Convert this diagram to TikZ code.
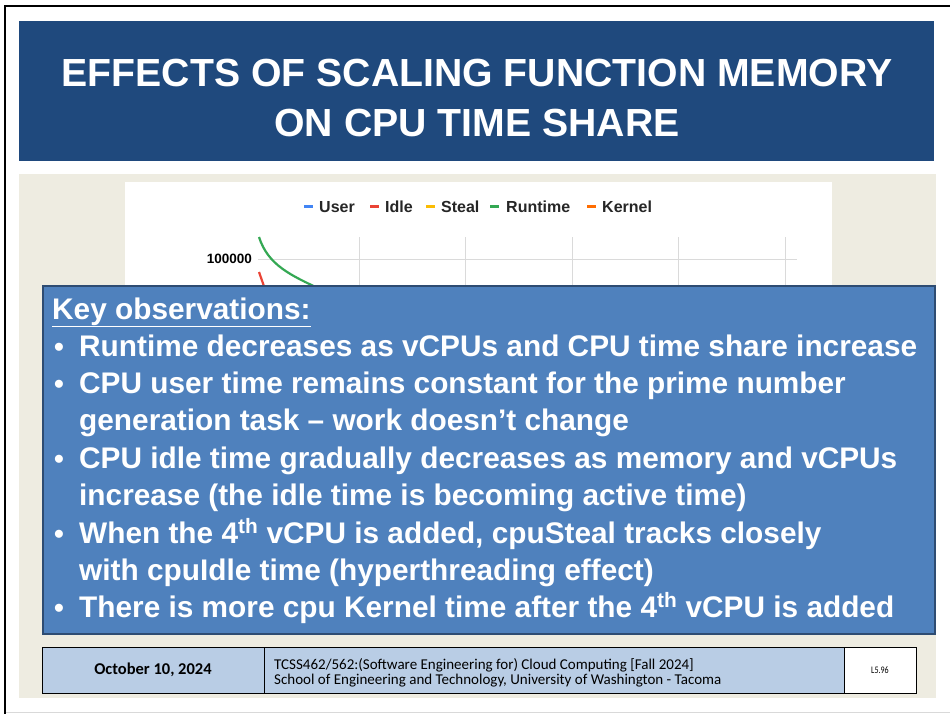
\documentclass[tikz,border=0pt]{standalone}
\usepackage{fontspec}
\setmainfont{Liberation Sans}
\newfontfamily\calibri{Carlito}
\definecolor{titleblue}{HTML}{1F497D}
\definecolor{keyblue}{HTML}{4F81BD}
\definecolor{keyedge}{HTML}{2E4C72}
\definecolor{beige}{HTML}{EEECE1}
\definecolor{footblue}{HTML}{B9CDE5}
\definecolor{gridc}{HTML}{DADADA}
\definecolor{cuser}{HTML}{4285F4}
\definecolor{cidle}{HTML}{EA4335}
\definecolor{csteal}{HTML}{FBBC04}
\definecolor{crun}{HTML}{34A853}
\definecolor{ckern}{HTML}{FF6D01}
\tikzset{
  keyline/.style={anchor=base west, inner sep=0pt, text=white, font=\bfseries\fontsize{29.8}{37}\selectfont},
  bulletdot/.style={anchor=base west, inner sep=0pt, text=white, font=\bfseries\fontsize{28}{37}\selectfont},
  legmark/.style={line width=3pt},
  legtext/.style={anchor=west, inner sep=0pt, font=\bfseries\fontsize{16}{18}\selectfont, text=black!85},
  gridline/.style={draw=gridc, line width=1pt},
  footcell/.style={draw=black, line width=0.8pt},
  titleline/.style={anchor=base, inner sep=0pt, text=white, font=\bfseries\fontsize{39.2}{48}\selectfont}
}
\begin{document}
\begin{tikzpicture}[x=1pt,y=-1pt]
\useasboundingbox (0,0) rectangle (950,714);
\fill[white] (0,0) rectangle (950,714);
% outer frame lines
\draw[black, line width=2pt] (5,714) -- (5,6) -- (950,6);
\draw[black!15, line width=1pt] (6,712.5) -- (950,712.5);
% title
\node[fill=titleblue, minimum width=915pt, minimum height=140pt, inner sep=0pt, anchor=north west] (title) at (19,21) {};
\node[titleline] (t1) at (477,87) {EFFECTS OF SCALING FUNCTION MEMORY};
\node[titleline] (t2) at (477,137) {ON CPU TIME SHARE};
% beige body
\fill[beige] (19,174) rectangle (936,698);
% chart area
\fill[white] (125,182) rectangle (832,300);
\draw[gridline] (258,259) -- (797,259);
\foreach \gx in {359,465,572,678,785} { \draw[gridline] (\gx,237) -- (\gx,300); }
\node[anchor=east, inner sep=0pt, font=\bfseries\fontsize{13.5}{15}\selectfont] (ylab) at (252,259) {100000};
\draw[crun, line width=2.2pt] (259,237) .. controls (268,265) and (290,275) .. (322,290);
\draw[cidle, line width=2.2pt] (259,272) -- (266,292);
% legend
\draw[cuser, legmark] (304,207) -- (313,207);
\node[legtext] (lu) at (319,207) {User};
\draw[cidle, legmark] (370,207) -- (379,207);
\node[legtext] (li) at (385,207) {Idle};
\draw[csteal, legmark] (426,207) -- (435,207);
\node[legtext] (ls) at (441,207) {Steal};
\draw[crun, legmark] (490,207) -- (499,207);
\node[legtext] (lr) at (506,207) {Runtime};
\draw[ckern, legmark] (587,207) -- (596,207);
\node[legtext] (lk) at (602,207) {Kernel};
% key observations box
\node[fill=keyblue, draw=keyedge, line width=1.5pt, minimum width=892pt, minimum height=348pt, inner sep=0pt, anchor=north west] (keybox) at (42,285) {};
\node[keyline] (k0) at (52,319) {\underline{Key observations:}};
\node[bulletdot] (b1) at (54,356) {•};
\node[keyline] (k1) at (79,356) {Runtime decreases as vCPUs and CPU time share increase};
\node[bulletdot] (b2) at (54,393) {•};
\node[keyline] (k2) at (79,393) {CPU user time remains constant for the prime number};
\node[keyline] (k3) at (79,430) {generation task – work doesn’t change};
\node[bulletdot] (b3) at (54,468) {•};
\node[keyline] (k4) at (79,468) {CPU idle time gradually decreases as memory and vCPUs};
\node[keyline] (k5) at (79,505) {increase (the idle time is becoming active time)};
\node[bulletdot] (b4) at (54,543) {•};
\node[keyline] (k6) at (79,543) {When the 4\textsuperscript{th} vCPU is added, cpuSteal tracks closely};
\node[keyline] (k7) at (79,580) {with cpuIdle time (hyperthreading effect)};
\node[bulletdot] (b5) at (54,617) {•};
\node[keyline] (k8) at (79,617) {There is more cpu Kernel time after the 4\textsuperscript{th} vCPU is added};
% footer
\fill[footblue] (42,647) rectangle (844,693);
\fill[white] (844,647) rectangle (916,693);
\draw[footcell] (42,647) rectangle (916,693);
\draw[footcell] (264,647) -- (264,693);
\draw[footcell] (844,647) -- (844,693);
\node[inner sep=0pt, font=\calibri\bfseries\fontsize{16.5}{18}\selectfont] (date) at (153,670) {October 10, 2024};
\node[anchor=base west, inner sep=0pt, font=\calibri\fontsize{15}{15}\selectfont] (f1) at (274,669) {TCSS462/562:(Software Engineering for) Cloud Computing [Fall 2024]};
\node[anchor=base west, inner sep=0pt, font=\calibri\fontsize{15}{15}\selectfont] (f2) at (274,684) {School of Engineering and Technology, University of Washington - Tacoma};
\node[inner sep=0pt, font=\calibri\fontsize{10}{11}\selectfont] (pg) at (880,670) {\scalebox{0.8}[1]{L5.96}};
\end{tikzpicture}
\end{document}
